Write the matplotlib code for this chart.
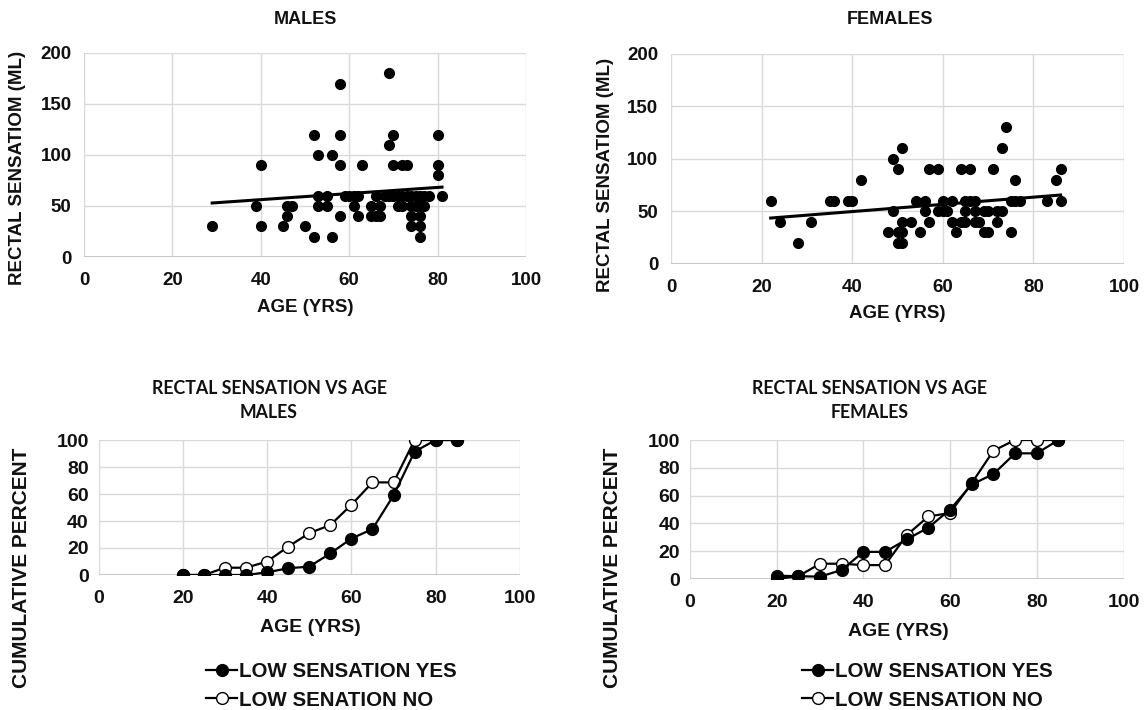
import numpy as np
import matplotlib
matplotlib.use("Agg")
import matplotlib.pyplot as plt

plt.rcParams['font.family'] = ['Liberation Sans', 'DejaVu Sans']
plt.rcParams['font.weight'] = 'bold'

# ---------------- data ----------------
male_age = [29, 39, 40, 40, 45, 46, 47, 46, 50, 52, 52, 53, 53, 53, 55, 55, 56, 56,
            58, 58, 58, 58, 59, 60, 61, 62, 61, 62, 63, 65, 65, 66, 66, 67, 67,
            69, 69, 70, 70, 72, 73, 71, 72, 74, 75, 76, 77, 74, 76, 74, 76, 76,
            80, 80, 80, 81, 68, 69, 70, 71, 72, 73, 74, 75, 76, 77, 78]
male_vol = [30, 50, 90, 30, 30, 50, 50, 40, 30, 120, 20, 100, 60, 50, 60, 50, 100, 20,
            170, 120, 90, 40, 60, 60, 60, 60, 50, 40, 90, 50, 40, 60, 40, 50, 40,
            180, 110, 120, 90, 90, 90, 50, 50, 50, 50, 50, 50, 40, 40, 30, 30, 20,
            120, 90, 80, 60, 60, 60, 60, 60, 60, 60, 60, 60, 60, 60, 60]

female_age = [22, 24, 28, 31, 35, 36, 39, 40, 42, 48, 49, 49, 50, 50, 51, 50, 51, 51,
              51, 53, 54, 55, 56, 56, 57, 57, 59, 59, 60, 61, 60, 62, 62, 63, 64, 64,
              65, 66, 67, 65, 65, 66, 67, 67, 68, 69, 70, 69, 70, 71, 72, 72, 73, 73,
              74, 75, 75, 76, 77, 76, 83, 85, 86, 86]
female_vol = [60, 40, 20, 40, 60, 60, 60, 60, 80, 30, 100, 50, 90, 30, 30, 20, 20, 110,
              40, 40, 60, 30, 60, 50, 90, 40, 90, 50, 50, 50, 60, 60, 40, 30, 90, 40,
              60, 60, 60, 50, 40, 90, 50, 40, 40, 50, 50, 30, 30, 90, 40, 50, 50, 110,
              130, 30, 60, 60, 60, 80, 60, 80, 90, 60]

age_bins = [20, 25, 30, 35, 40, 45, 50, 55, 60, 65, 70, 75, 80, 85]
male_yes = [0, 0, 0, 0, 2, 5, 6.2, 16, 27, 34, 59, 91.4, 100, 100]
male_no = [0, 0, 5.4, 5.4, 10, 21, 31, 37, 52, 68.6, 68.6, 100, 100, 100]
female_yes = [2.4, 2.0, 1.7, 6.5, 19.5, 19.5, 28.5, 37, 50, 68, 75.5, 90.4, 90.4, 100]
female_no = [0, 2.0, 11, 11, 10, 10, 31.6, 45, 47.5, 69, 92.3, 100, 100, 100]

x_ticks = [0, 20, 40, 60, 80, 100]
scatter_yticks = [0, 50, 100, 150, 200]
cum_yticks = [0, 20, 40, 60, 80, 100]

# ---------------- figure ----------------
W, H = 1147, 710
fig = plt.figure(figsize=(W / 100, H / 100), dpi=100)

def box(l, t, r, b):
    return [l / W, 1 - b / H, (r - l) / W, (b - t) / H]

GRID = '#d9d9d9'
AXL = '#bfbfbf'
TXT = '#111111'

def style(ax, yticks, fs):
    ax.set_xlim(0, 100)
    ax.set_ylim(yticks[0], yticks[-1])
    ax.set_xticks(x_ticks)
    ax.set_yticks(yticks)
    for s in ax.spines.values():
        s.set_visible(False)
    ax.grid(True, color=GRID, linewidth=1.0)
    ax.set_axisbelow(True)
    ax.axhline(yticks[0], color=AXL, linewidth=1.2, zorder=1)
    ax.tick_params(length=0, labelsize=fs, colors=TXT)
    for lab in ax.get_xticklabels() + ax.get_yticklabels():
        lab.set_fontweight('bold')

def scatter_panel(rect, ages, vols, pad_x, pad_y):
    ax = fig.add_axes(rect)
    style(ax, scatter_yticks, 13.5)
    ax.tick_params(axis='x', pad=pad_x)
    ax.tick_params(axis='y', pad=pad_y)
    ax.plot(ages, vols, 'o', color='black', markersize=7.0, linestyle='none', zorder=3)
    a = np.array(ages, float)
    v = np.array(vols, float)
    k, c = np.polyfit(a, v, 1)
    xs = np.array([a.min(), a.max()])
    ax.plot(xs, k * xs + c, color='black', linewidth=2.2, zorder=4)
    return ax

def cum_panel(rect, yes, no, no_label, leg_x, pad_x, pad_y):
    ax = fig.add_axes(rect)
    style(ax, cum_yticks, 14)
    ax.tick_params(axis='x', pad=pad_x)
    ax.tick_params(axis='y', pad=pad_y)
    ax.plot(age_bins, no, '-o', color='black', markerfacecolor='white',
            markeredgecolor='black', markeredgewidth=1.0, markersize=8.5,
            linewidth=1.6, zorder=3, label=no_label)
    ax.plot(age_bins, yes, '-o', color='black', markersize=8.5,
            linewidth=1.6, zorder=4, label='LOW SENSATION YES')
    h, l = ax.get_legend_handles_labels()
    fig.legend([h[1], h[0]], [l[1], l[0]], loc='upper left',
               bbox_to_anchor=(leg_x / W, 1 - 652 / H), frameon=False,
               prop={'family': 'Liberation Sans', 'weight': 'bold', 'size': 14.8},
               handlelength=1.5, handletextpad=0.1, labelspacing=0.45,
               borderpad=0, labelcolor=TXT)
    return ax

ax1 = scatter_panel(box(84, 53, 526, 257), male_age, male_vol, 11, 9)
ax2 = scatter_panel(box(671, 54, 1124, 264), female_age, female_vol, 11, 9)
ax3 = cum_panel(box(98.5, 440, 520, 575), male_yes, male_no, 'LOW SENATION NO', 196, 11, 7)
ax4 = cum_panel(box(690, 440, 1123.5, 579), female_yes, female_no, 'LOW SENSATION NO', 792, 11, 7)

def ftext(x, y, s, size, rot=0, family=None):
    kw = dict(ha='center', va='center', fontsize=size, fontweight='bold',
              color=TXT, rotation=rot)
    if family:
        kw['family'] = family
    fig.text(x / W, 1 - y / H, s, **kw)

ftext(305, 20, 'MALES', 13)
ftext(890, 20, 'FEMALES', 13)
ftext(305, 307, 'AGE (YRS)', 13.5)
ftext(897, 313, 'AGE (YRS)', 13.5)
ftext(18, 168, 'RECTAL SENSATIOM (ML)', 13.5, rot=90)
ftext(606, 175, 'RECTAL SENSATIOM (ML)', 13.5, rot=90)

ftext(310, 628, 'AGE (YRS)', 14)
ftext(898, 632, 'AGE (YRS)', 14)
ftext(22, 568, 'CUMULATIVE PERCENT', 15, rot=90)
ftext(612, 568, 'CUMULATIVE PERCENT', 15, rot=90)

cal = ['Lato', 'DejaVu Sans']
ftext(269, 388, 'RECTAL SENSATION VS AGE', 12.8, family=cal)
ftext(269, 413, 'MALES', 12.8, family=cal)
ftext(870, 388, 'RECTAL SENSATION VS AGE', 12.8, family=cal)
ftext(870, 413, 'FEMALES', 12.8, family=cal)

fig.savefig('out.png', dpi=100, facecolor='white')
